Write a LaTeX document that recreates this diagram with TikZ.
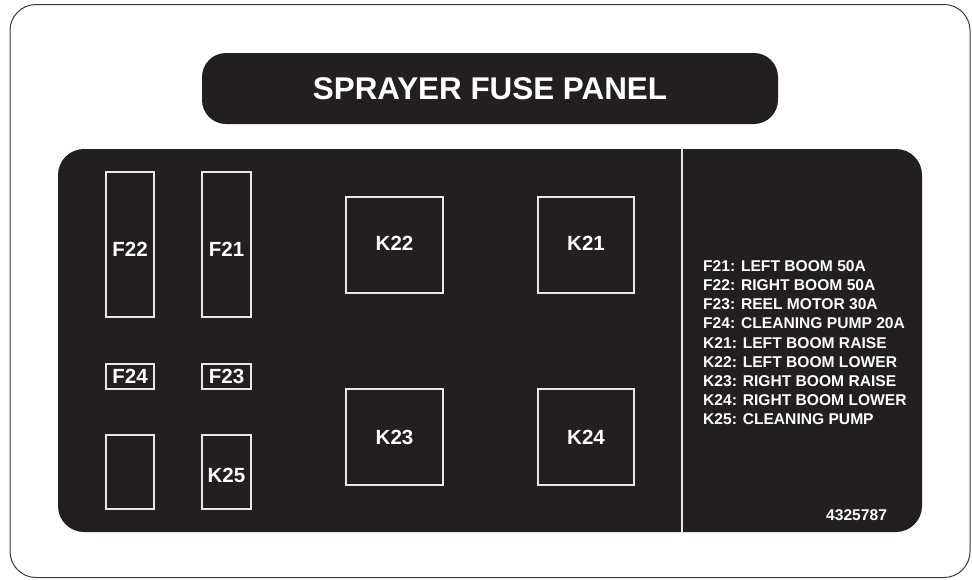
\documentclass[tikz,border=0pt]{standalone}
\usepackage{fontspec}
\setmainfont{Liberation Sans}
\definecolor{panel}{HTML}{231F20}
\definecolor{boxline}{HTML}{E8E8E8}
\definecolor{rim}{HTML}{3A3A3A}
% label lowered by #1 (pt) from the centre of its box
\newcommand{\slotlbl}[2]{\raisebox{\dimexpr-7.35pt-#1pt\relax}[0pt][0pt]{#2}}
\begin{document}
\begin{tikzpicture}[x=1pt,y=-1pt,
  slot/.style={draw=boxline, line width=1.2pt, inner sep=0pt, text=white,
    font=\bfseries\fontsize{20.5}{24}\selectfont},
  legend/.style={anchor=base west, inner sep=0pt, text=white,
    font=\bfseries\fontsize{15.6}{19}\selectfont}]
\useasboundingbox (0,0) rectangle (972,579);
% outer label border
\draw[rim, line width=1pt, rounded corners=26] (10,4.5) rectangle (970,577.5);
% title plate
\node[fill=panel, rounded corners=24, minimum width=576, minimum height=71, inner sep=0pt,
  text=white, font=\bfseries\fontsize{31.4}{36}\selectfont] (title) at (490,88.5) {SPRAYER FUSE PANEL};
% main panel
\fill[panel, rounded corners=26] (58,149) rectangle (922,532);
\coordinate (divtop) at (682,149);
\coordinate (divbot) at (682,532);
\draw[boxline, line width=1.2pt] (divtop) -- (divbot);
% fuses
\node[slot, minimum width=48, minimum height=145] (F22) at (130,244.5) {\slotlbl{4.5}{F22}};
\node[slot, minimum width=49, minimum height=145] (F21) at (226.5,244.5) {\slotlbl{4.5}{F21}};
\node[slot, minimum width=48, minimum height=25] (F24) at (130,376.5) {\slotlbl{0}{F24}};
\node[slot, minimum width=49, minimum height=25] (F23) at (226.5,376.5) {\slotlbl{0}{F23}};
\node[slot, minimum width=48, minimum height=74] (E1) at (130,472) {};
\node[slot, minimum width=49, minimum height=74] (K25) at (226.5,472) {\slotlbl{3}{K25}};
% relays
\node[slot, minimum width=97, minimum height=96] (K22) at (394.5,245) {\slotlbl{-2}{K22}};
\node[slot, minimum width=96, minimum height=96] (K21) at (586,245) {\slotlbl{-2}{K21}};
\node[slot, minimum width=97, minimum height=96] (K23) at (394.5,437) {\slotlbl{0}{K23}};
\node[slot, minimum width=96, minimum height=96] (K24) at (586,437) {\slotlbl{0}{K24}};
% legend
\foreach \t [count=\i from 0] in {F21: LEFT BOOM 50A, F22: RIGHT BOOM 50A, F23: REEL MOTOR 30A,
  F24: CLEANING PUMP 20A, K21: LEFT BOOM RAISE, K22: LEFT BOOM LOWER,
  K23: RIGHT BOOM RAISE, K24: RIGHT BOOM LOWER, K25: CLEANING PUMP}
  \node[legend] (L\i) at (703,271.7+19.08*\i) {\t};
\node[legend] (num) at (826,520) {4325787};
\end{tikzpicture}
\end{document}
